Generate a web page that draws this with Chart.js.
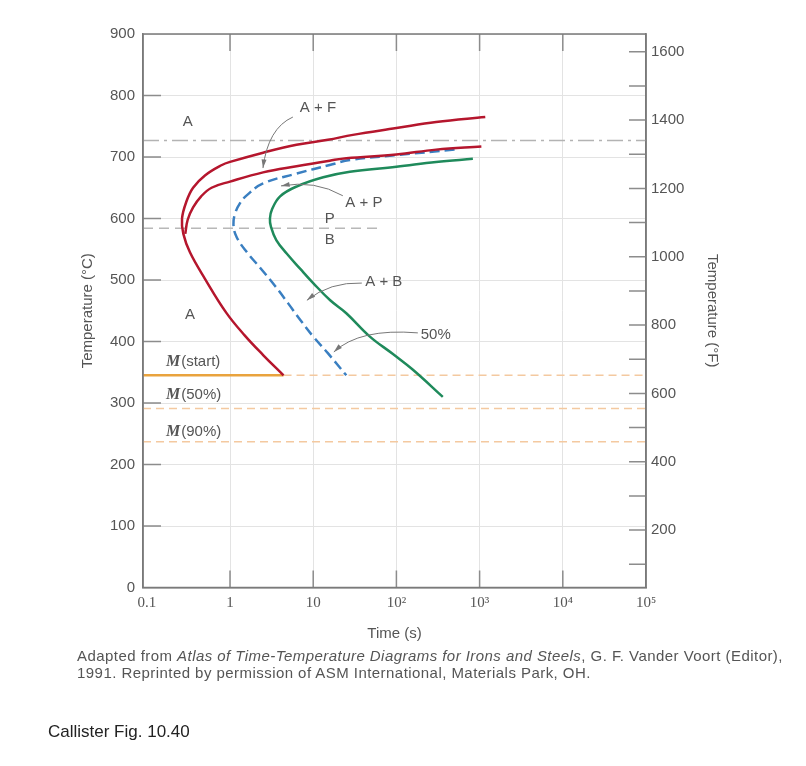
<!DOCTYPE html>
<html lang="en">
<head>
  <meta charset="UTF-8">
  <title>Isothermal transformation diagram</title>
  <script src="https://cdn.jsdelivr.net/npm/chart.js"></script>
  <style>
    body { margin: 0; background: #fff; }
    #wrap { position: relative; width: 806px; height: 766px; }
    #ttt { position: absolute; left: 0; top: 0; }
    .caption {
      position: absolute; left: 77px; top: 647px;
      font: 15px "Liberation Sans", Arial, sans-serif; color: #555; line-height: 17px;
      letter-spacing: 0.45px; white-space: nowrap;
    }
    #fig {
      position: absolute; left: 48px; top: 722px;
      font: 17px "Liberation Sans", Arial, sans-serif; color: #222;
    }
  </style>
</head>
<body>
<div id="wrap">
  <canvas id="ttt" width="806" height="766"></canvas>
  <div class="caption">Adapted from <i>Atlas of Time-Temperature Diagrams for Irons and Steels</i>, G. F. Vander Voort (Editor),<br>1991. Reprinted by permission of ASM International, Materials Park, OH.</div>
  <div id="fig">Callister Fig. 10.40</div>
</div>

<script>
// curves: [time (s), temperature (°C)]
const redOuter = [[1170,765],[300,757],[100,747],[30,736],[15,728],[6.3,720],[2.5,707],[1,692],[0.8,687],[0.5,670],[0.36,650],[0.3,628],[0.265,600],[0.275,575],[0.33,545],[0.5,502],[0.9,447],[1.5,410],[2.5,378],[4.4,345]];
const redInner = [[1050,717],[300,712],[100,704],[25,698],[15.8,694],[6.3,685],[2.5,675],[1,660],[0.6,650],[0.45,636],[0.36,618],[0.31,598],[0.29,575]];
const blueHalf = [[500,712],[100,703],[27.6,695],[15.8,687],[6.3,673],[2.5,657],[1.6,638],[1.32,625],[1.15,608],[1.1,590],[1.2,570],[1.6,545],[2.3,520],[3.5,490],[5,462],[7,435],[10,408],[15,381],[25,345]];
const greenFinish = [[830,697],[300,692],[100,684],[27.6,676],[13.2,667],[6.3,652],[4,636],[3.2,615],[3.02,600],[3.1,587],[3.6,565],[4.8,543],[7,518],[10,495],[16,467],[25,446],[48,408],[90,380],[158,354],[361,310]];

// horizontal reference temperatures (°C)
const eutectoidC = 727;
const pearliteBainiteC = 584;
const pearliteBainiteEnd = 66;   // time where that dashed line stops
const mStartC = 345;
const mStartEnd = 4.4;           // solid part ends where the red curve meets it
const m50C = 291;
const m90C = 237;

// axes
const timeMin = 0.09, timeMax = 1e5;
const xTickValues = [0.1, 1, 10, 100, 1000, 1e4, 1e5];
const xTickLabels = ['0.1', '1', '10', '10²', '10³', '10⁴', '10⁵'];
const yTicksC = [0, 100, 200, 300, 400, 500, 600, 700, 800, 900];
const yTicksF = [100, 200, 300, 400, 500, 600, 700, 800, 900, 1000, 1100, 1200, 1300, 1400, 1500, 1600];

// region labels [time, °C, text]
const regionLabels = [
  [0.31, 757, 'A'], [11.4, 780, 'A + F'], [40.6, 625, 'A + P'],
  [15.8, 599, 'P'], [15.8, 565, 'B'], [70.6, 497, 'A + B'],
  [0.33, 443, 'A'], [297, 410, '50%']
];
const mLabels = [[0.17, 367, '(start)'], [0.17, 313, '(50%)'], [0.17, 253, '(90%)']];
// leader arrows: from, control, to  (time, °C)
const arrows = [
  [5.7, 765, 2.86, 747, 2.49, 682],
  [22.7, 637, 10.5, 663, 4.1, 653],
  [38.4, 495, 15.9, 497, 8.4, 467],
  [181, 414, 36.4, 422, 17.7, 383]
];

const toPts = arr => arr.map(p => ({ x: p[0], y: p[1] }));
const hLine = (y, x0, x1) => [{ x: x0, y: y }, { x: x1, y: y }];

function curve(data, color, dash) {
  return {
    data: toPts(data), borderColor: color, borderWidth: 2.5, borderDash: dash || [],
    showLine: true, tension: 0.4, pointRadius: 0, fill: false
  };
}
function ref(data, color, width, dash) {
  return {
    data: data, borderColor: color, borderWidth: width, borderDash: dash || [],
    showLine: true, tension: 0, pointRadius: 0, fill: false
  };
}

function drawArrow(ctx, x0, y0, cx, cy, x1, y1) {
  ctx.beginPath();
  ctx.moveTo(x0, y0);
  ctx.quadraticCurveTo(cx, cy, x1, y1);
  ctx.stroke();
  const ang = Math.atan2(y1 - cy, x1 - cx);
  ctx.beginPath();
  ctx.moveTo(x1, y1);
  ctx.lineTo(x1 - 9 * Math.cos(ang - 0.28), y1 - 9 * Math.sin(ang - 0.28));
  ctx.lineTo(x1 - 9 * Math.cos(ang + 0.28), y1 - 9 * Math.sin(ang + 0.28));
  ctx.closePath();
  ctx.fill();
}

const decor = {
  id: 'decor',
  afterDatasetsDraw(chart) {
    const { ctx, chartArea: a } = chart;
    const xs = chart.scales.x, ys = chart.scales.y, fs = chart.scales.y2;
    const px = v => xs.getPixelForValue(v), py = v => ys.getPixelForValue(v);
    ctx.save();

    // inward tick marks
    ctx.strokeStyle = '#8c8c8c';
    ctx.lineWidth = 1.5;
    ctx.beginPath();
    yTicksC.slice(1, -1).forEach(v => { ctx.moveTo(a.left, py(v)); ctx.lineTo(a.left + 18, py(v)); });
    yTicksF.forEach(v => { const y = fs.getPixelForValue(v); ctx.moveTo(a.right, y); ctx.lineTo(a.right - 17, y); });
    xTickValues.slice(1, -1).forEach(v => {
      const x = px(v);
      ctx.moveTo(x, a.bottom); ctx.lineTo(x, a.bottom - 17);
      ctx.moveTo(x, a.top); ctx.lineTo(x, a.top + 17);
    });
    ctx.stroke();

    // frame
    ctx.strokeStyle = '#7a7a7a';
    ctx.strokeRect(a.left, a.top, a.right - a.left, a.bottom - a.top);

    // leaders
    ctx.strokeStyle = '#777';
    ctx.fillStyle = '#777';
    ctx.lineWidth = 1;
    arrows.forEach(r => drawArrow(ctx, px(r[0]), py(r[1]), px(r[2]), py(r[3]), px(r[4]), py(r[5])));

    // region labels
    ctx.fillStyle = '#555';
    ctx.font = '15px "Liberation Sans", Arial, sans-serif';
    ctx.textAlign = 'center';
    ctx.textBaseline = 'middle';
    regionLabels.forEach(l => ctx.fillText(l[2], px(l[0]), py(l[1])));

    // martensite labels
    ctx.textAlign = 'left';
    mLabels.forEach(l => {
      const x = px(l[0]), y = py(l[1]);
      ctx.font = 'italic bold 16px "Liberation Serif", serif';
      ctx.fillText('M', x, y);
      const w = ctx.measureText('M').width;
      ctx.font = '15px "Liberation Sans", Arial, sans-serif';
      ctx.fillText(l[2], x + w + 1, y);
    });
    ctx.restore();
  }
};

const tickFont = { family: '"Liberation Sans", Arial, sans-serif', size: 15 };
const titleFont = { family: '"Liberation Sans", Arial, sans-serif', size: 15 };

new Chart(document.getElementById('ttt'), {
  type: 'scatter',
  data: {
    datasets: [
      curve(redOuter, '#b5162d'),
      curve(redInner, '#b5162d'),
      curve(blueHalf, '#3a7fc1', [10, 5]),
      curve(greenFinish, '#1f8a5b'),
      ref(hLine(eutectoidC, timeMin, timeMax), '#b3b3b3', 1.5, [16, 5, 3, 5]),
      ref(hLine(pearliteBainiteC, timeMin, pearliteBainiteEnd), '#b8b8b8', 1.5, [10, 6]),
      ref(hLine(mStartC, timeMin, mStartEnd), '#e9a33e', 2.5),
      ref(hLine(mStartC, mStartEnd, timeMax), '#f4c9a0', 1.5, [8, 5]),
      ref(hLine(m50C, timeMin, timeMax), '#f4c9a0', 1.5, [8, 5]),
      ref(hLine(m90C, timeMin, timeMax), '#f4c9a0', 1.5, [8, 5])
    ]
  },
  options: {
    responsive: false,
    animation: false,
    devicePixelRatio: 1,
    layout: { padding: { top: 34, left: 0, right: 0, bottom: 0 } },
    plugins: { legend: { display: false }, tooltip: { enabled: false } },
    scales: {
      x: {
        type: 'logarithmic', min: timeMin, max: timeMax,
        afterBuildTicks: s => { s.ticks = xTickValues.map(v => ({ value: v })); },
        afterFit: s => { s.height = 766 - 587.5; },
        ticks: {
          autoSkip: false, maxRotation: 0, padding: 6.5, color: '#555',
          font: { family: '"Liberation Serif", serif', size: 15 },
          callback: v => { const i = xTickValues.indexOf(v); return i < 0 ? '' : xTickLabels[i]; }
        },
        grid: {
          drawTicks: false,
          color: c => (c.tick && c.tick.value === 0.1) ? 'rgba(0,0,0,0)' : '#e3e3e3'
        },
        border: { color: '#7a7a7a', width: 1.5 },
        title: { display: true, text: 'Time (s)', color: '#555', font: titleFont, padding: { top: 0, bottom: 123 } }
      },
      y: {
        position: 'left', min: 0, max: 900,
        afterBuildTicks: s => { s.ticks = yTicksC.map(v => ({ value: v })); },
        afterFit: s => { s.width = 143; },
        ticks: { autoSkip: false, padding: 8, color: '#555', font: tickFont },
        grid: { drawTicks: false, color: '#e3e3e3' },
        border: { color: '#7a7a7a', width: 1.5 },
        title: { display: true, text: 'Temperature (°C)', color: '#555', font: titleFont, padding: { top: 79, bottom: 0 } }
      },
      y2: {
        position: 'right', min: 32, max: 900 * 1.8 + 32,
        afterBuildTicks: s => { s.ticks = yTicksF.map(v => ({ value: v })); },
        afterFit: s => { s.width = 160; },
        ticks: { autoSkip: false, padding: 5, color: '#555', font: tickFont, callback: v => (v % 200 === 0 ? String(v) : '') },
        grid: { display: false, drawTicks: false },
        border: { color: '#7a7a7a', width: 1.5 },
        title: { display: true, text: 'Temperature (°F)', color: '#555', font: titleFont, padding: { top: 85, bottom: 0 } }
      }
    }
  },
  plugins: [decor]
});
</script>
</body>
</html>
